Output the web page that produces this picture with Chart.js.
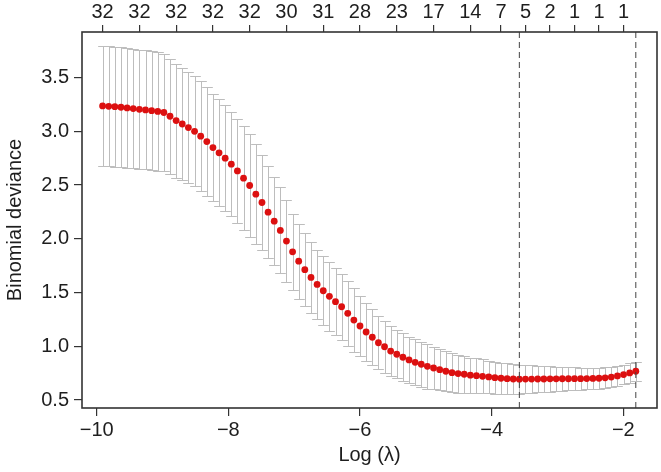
<!DOCTYPE html>
<html><head><meta charset="utf-8">
<script src="https://cdn.jsdelivr.net/npm/chart.js@4/dist/chart.umd.min.js"></script>
<style>html,body{margin:0;padding:0;background:#fff}#wrap{width:661px;height:472px}</style>
</head><body><div id="wrap"><canvas id="c" width="661" height="472"></canvas></div>
<script>
// log(lambda) grid of the cross-validation path
const logLambda = [
 -9.910,-9.817,-9.724,-9.631,-9.538,-9.445,-9.351,-9.258,-9.165,-9.072,
 -8.979,-8.886,-8.793,-8.700,-8.607,-8.513,-8.420,-8.327,-8.234,-8.141,
 -8.048,-7.955,-7.862,-7.769,-7.676,-7.582,-7.489,-7.396,-7.303,-7.210,
 -7.117,-7.024,-6.931,-6.838,-6.744,-6.651,-6.558,-6.465,-6.372,-6.279,
 -6.186,-6.093,-6.000,-5.907,-5.813,-5.720,-5.627,-5.534,-5.441,-5.348,
 -5.255,-5.162,-5.069,-4.976,-4.882,-4.789,-4.696,-4.603,-4.510,-4.417,
 -4.324,-4.231,-4.138,-4.044,-3.951,-3.858,-3.765,-3.672,-3.579,-3.486,
 -3.393,-3.300,-3.207,-3.113,-3.020,-2.927,-2.834,-2.741,-2.648,-2.555,
 -2.462,-2.369,-2.276,-2.182,-2.089,-1.996,-1.903,-1.810];
// mean binomial deviance
const meanDeviance = [
 3.236,3.233,3.229,3.224,3.218,3.212,3.205,3.199,3.192,3.185,
 3.175,3.140,3.100,3.068,3.035,3.000,2.955,2.905,2.849,2.800,
 2.750,2.694,2.632,2.564,2.496,2.415,2.338,2.248,2.164,2.078,
 1.979,1.879,1.792,1.713,1.641,1.576,1.517,1.465,1.415,1.368,
 1.307,1.244,1.189,1.133,1.084,1.033,0.996,0.956,0.926,0.898,
 0.873,0.851,0.833,0.814,0.798,0.783,0.768,0.755,0.746,0.740,
 0.731,0.727,0.721,0.715,0.708,0.703,0.699,0.696,0.694,0.695,
 0.695,0.696,0.696,0.697,0.697,0.698,0.698,0.699,0.699,0.700,
 0.701,0.703,0.707,0.714,0.724,0.737,0.752,0.768];
// standard error of the deviance
const seDeviance = [
 0.558,0.558,0.557,0.557,0.556,0.556,0.555,0.554,0.552,0.550,
 0.548,0.536,0.530,0.522,0.517,0.512,0.512,0.503,0.500,0.497,
 0.492,0.485,0.485,0.482,0.477,0.465,0.440,0.427,0.412,0.400,
 0.380,0.356,0.350,0.340,0.331,0.324,0.322,0.322,0.310,0.305,
 0.303,0.296,0.278,0.267,0.260,0.247,0.242,0.234,0.225,0.222,
 0.216,0.214,0.210,0.207,0.198,0.189,0.185,0.180,0.176,0.170,
 0.163,0.161,0.158,0.152,0.149,0.145,0.142,0.138,0.135,0.132,
 0.128,0.125,0.121,0.118,0.114,0.110,0.107,0.105,0.103,0.101,
 0.099,0.097,0.096,0.094,0.093,0.091,0.090,0.088];
const xTicks = [-10,-8,-6,-4,-2];
const yTicks = [0.5,1.0,1.5,2.0,2.5,3.0,3.5];
const topTickPos = [-9.910,-9.351,-8.793,-8.234,-7.676,-7.117,-6.558,-6.000,-5.441,-4.882,-4.324,-3.858,-3.486,-3.113,-2.741,-2.369,-1.996];
const topTickLabels = ['32','32','32','32','32','30','31','28','23','17','14','7','5','2','1','1','1'];
const lambdaMinLog = -3.579;
const lambda1seLog = -1.810;
const xRange = [-10.223, -1.488];
const yRange = [0.426, 3.924];

const FONT = 'Liberation Sans, Arial, Helvetica, sans-serif';
const INK = '#1e1e1e';
const minusFmt = v => (v < 0 ? '\u2212' + Math.abs(v) : String(v));

const errorBars = {
  id: 'errorBars',
  beforeDatasetsDraw(chart) {
    const {ctx, chartArea, scales} = chart;
    const x = scales.x, y = scales.y;
    ctx.save();
    ctx.beginPath();
    ctx.rect(chartArea.left, chartArea.top, chartArea.width, chartArea.height);
    ctx.clip();
    ctx.strokeStyle = '#bdbdbd';
    ctx.lineWidth = 1;
    const capHalf = Math.abs(x.getPixelForValue(logLambda[logLambda.length - 1]) - x.getPixelForValue(logLambda[0])) * 0.01;
    logLambda.forEach((lx, i) => {
      const px = Math.round(x.getPixelForValue(lx)) + 0.5;
      const hi = Math.round(y.getPixelForValue(meanDeviance[i] + seDeviance[i])) + 0.5;
      const lo = Math.round(y.getPixelForValue(meanDeviance[i] - seDeviance[i])) + 0.5;
      ctx.beginPath();
      ctx.moveTo(px, hi); ctx.lineTo(px, lo);
      ctx.moveTo(px - capHalf, hi); ctx.lineTo(px + capHalf, hi);
      ctx.moveTo(px - capHalf, lo); ctx.lineTo(px + capHalf, lo);
      ctx.stroke();
    });
    ctx.restore();
  }
};
const boxPlugin = {
  id: 'boxPlugin',
  afterDatasetsDraw(chart) {
    const {ctx, chartArea: a} = chart;
    ctx.save();
    ctx.strokeStyle = '#333333';
    ctx.lineWidth = 1.6;
    ctx.strokeRect(a.left, a.top, a.right - a.left, a.bottom - a.top);
    ctx.restore();
  }
};

const tickGrid = {drawOnChartArea: false, drawTicks: true, tickLength: 8, color: '#333333', lineWidth: 1.2};

new Chart(document.getElementById('c'), {
  data: {
    datasets: [
      {type: 'line', data: [{x: lambdaMinLog, y: yRange[0]}, {x: lambdaMinLog, y: yRange[1]}],
       borderColor: '#444444', borderWidth: 1, borderDash: [6, 4], pointRadius: 0, fill: false},
      {type: 'line', data: [{x: lambda1seLog, y: yRange[0]}, {x: lambda1seLog, y: yRange[1]}],
       borderColor: '#444444', borderWidth: 1, borderDash: [6, 4], pointRadius: 0, fill: false},
      {type: 'scatter', data: logLambda.map((v, i) => ({x: v, y: meanDeviance[i]})),
       backgroundColor: '#dc1010', borderWidth: 0, pointRadius: 3.4}
    ]
  },
  options: {
    responsive: false,
    animation: false,
    devicePixelRatio: 1,
    layout: {padding: {left: 0, right: 4, top: 0, bottom: 0}},
    plugins: {legend: {display: false}, tooltip: {enabled: false}},
    scales: {
      x: {
        type: 'linear', position: 'bottom', min: xRange[0], max: xRange[1],
        afterBuildTicks: s => { s.ticks = xTicks.map(v => ({value: v})); },
        afterFit: s => { s.height = 64; },
        grid: tickGrid, border: {display: false},
        ticks: {padding: 2, color: INK, autoSkip: false, maxRotation: 0,
                font: {family: FONT, size: 20}, callback: v => minusFmt(v)},
        title: {display: true, text: 'Log (\u03BB)', color: INK,
                font: {family: FONT, size: 20}, padding: {top: 0, bottom: 5}}
      },
      xTop: {
        type: 'linear', position: 'top', min: xRange[0], max: xRange[1],
        afterBuildTicks: s => { s.ticks = topTickPos.map(v => ({value: v})); },
        afterFit: s => { s.height = 32; },
        grid: Object.assign({}, tickGrid, {tickLength: 7}), border: {display: false},
        ticks: {padding: 1, color: INK, autoSkip: false, maxRotation: 0,
                font: {family: FONT, size: 20}, callback: (v, i) => topTickLabels[i]}
      },
      y: {
        type: 'linear', position: 'left', min: yRange[0], max: yRange[1],
        afterBuildTicks: s => { s.ticks = yTicks.map(v => ({value: v})); },
        afterFit: s => { s.width = 82; },
        grid: tickGrid, border: {display: false},
        ticks: {padding: 5, color: INK, autoSkip: false,
                font: {family: FONT, size: 20}, callback: v => Number(v).toFixed(1)},
        title: {display: true, text: 'Binomial deviance', color: INK,
                font: {family: FONT, size: 20}, padding: {top: 3, bottom: 0}}
      }
    }
  },
  plugins: [errorBars, boxPlugin]
});
</script>
</body></html>
